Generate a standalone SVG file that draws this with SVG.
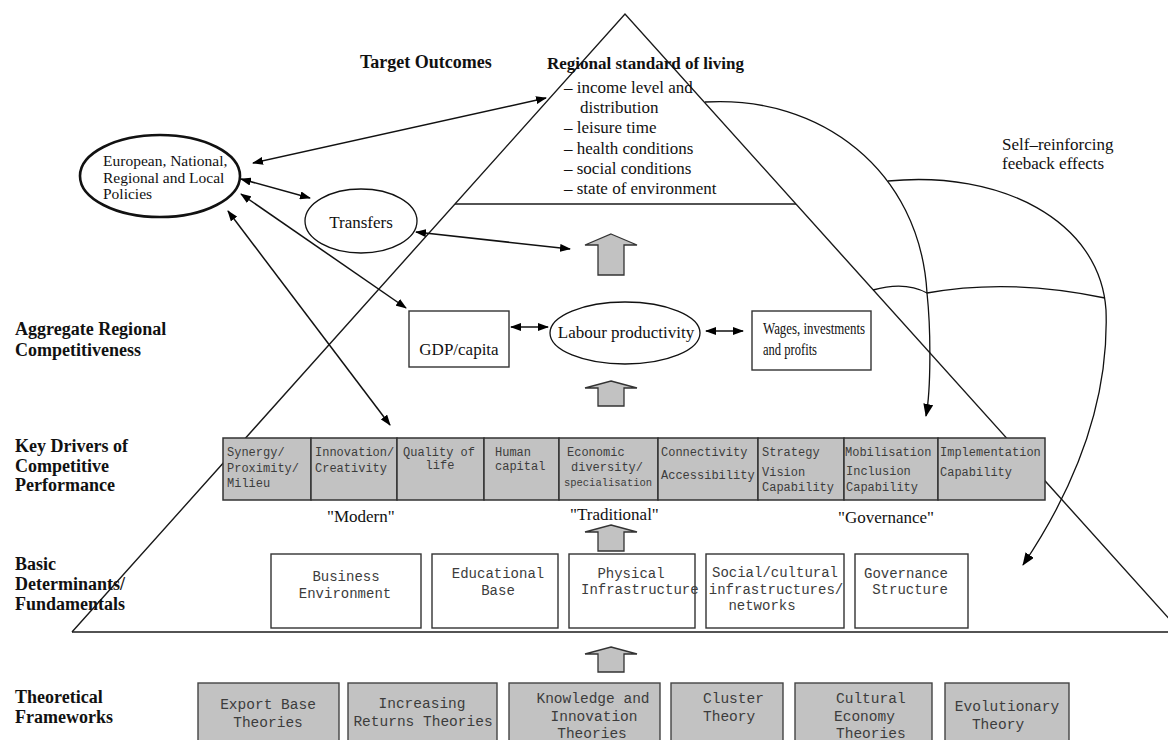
<svg xmlns="http://www.w3.org/2000/svg" width="1168" height="740" viewBox="0 0 1168 740">
<defs>
<marker id="ah" markerWidth="11" markerHeight="8" refX="10" refY="4" orient="auto-start-reverse" markerUnits="userSpaceOnUse"><path d="M0,0 L11,4 L0,8 z" fill="#000"/></marker>
<marker id="ahb" markerWidth="13" markerHeight="10" refX="12" refY="5" orient="auto" markerUnits="userSpaceOnUse"><path d="M0,0 L13,5 L0,10 z" fill="#000"/></marker>
</defs>
<style>
.serif{font-family:"Liberation Serif","Times New Roman",serif;fill:#111}
.lbl{font-family:"Liberation Serif","Times New Roman",serif;font-weight:bold;font-size:18px;fill:#111}
.mono{font-family:"Liberation Mono","Courier New",monospace;fill:#3c3c3c}
.m12{font-size:12px}
.m14{font-size:14px}
.drv{fill:#c2c2c2;stroke:#333;stroke-width:1.5}
.gbox{fill:#c2c2c2;stroke:#444;stroke-width:1.4}
.wbox{fill:#fff;stroke:#333;stroke-width:1.4}
.tri{fill:none;stroke:#1a1a1a;stroke-width:1.4}
.conn{fill:none;stroke:#111;stroke-width:1.5}
.curve{fill:none;stroke:#111;stroke-width:1.3}
.blk{fill:#c2c2c2;stroke:#333;stroke-width:1.3}
</style>
<rect width="1168" height="740" fill="#fff"/>

<!-- pyramid -->
<g id="pyramid">
<polyline class="tri" points="72,632 625,14 1181,632"/>
<line class="tri" x1="72" y1="632" x2="1168" y2="632"/>
<line class="tri" x1="455" y1="204" x2="796" y2="204"/>
</g>

<!-- level labels -->
<g id="level-labels">
<text class="lbl" x="360" y="68" font-size="20">Target Outcomes</text>
<text class="lbl" x="15" y="335">Aggregate Regional</text>
<text class="lbl" x="15" y="356">Competitiveness</text>
<text class="lbl" x="15" y="452">Key Drivers of</text>
<text class="lbl" x="15" y="472">Competitive</text>
<text class="lbl" x="15" y="491">Performance</text>
<text class="lbl" x="15" y="570">Basic</text>
<text class="lbl" x="15" y="590">Determinants/</text>
<text class="lbl" x="15" y="610">Fundamentals</text>
<text class="lbl" x="15" y="703">Theoretical</text>
<text class="lbl" x="15" y="723">Frameworks</text>
</g>

<!-- target outcomes -->
<g id="standard-of-living">
<text class="serif" x="547" y="69" font-size="17" font-weight="bold">Regional standard of living</text>
<g class="serif" font-size="17">
<text x="564" y="93">– income level and</text>
<text x="580" y="113">distribution</text>
<text x="564" y="133">– leisure time</text>
<text x="564" y="154">– health conditions</text>
<text x="564" y="174">– social conditions</text>
<text x="564" y="194">– state of environment</text>
</g>
</g>

<g id="feedback-label">
<text class="serif" x="1002" y="150" font-size="17">Self–reinforcing</text>
<text class="serif" x="1002" y="169" font-size="17">feeback effects</text>
</g>

<!-- connectors -->
<g id="connectors">
<line class="conn" x1="253" y1="163" x2="546" y2="98" marker-start="url(#ah)" marker-end="url(#ah)"/>
<line class="conn" x1="241" y1="179" x2="310" y2="198" marker-start="url(#ah)" marker-end="url(#ah)"/>
<line class="conn" x1="241" y1="194" x2="406" y2="308" marker-start="url(#ah)" marker-end="url(#ah)"/>
<line class="conn" x1="228" y1="211" x2="390" y2="425" marker-start="url(#ah)" marker-end="url(#ah)"/>
<line class="conn" x1="416" y1="232" x2="570" y2="249" marker-start="url(#ah)" marker-end="url(#ah)"/>
<line class="conn" x1="511" y1="327" x2="548" y2="327" marker-start="url(#ah)" marker-end="url(#ah)"/>
<line class="conn" x1="706" y1="331" x2="743" y2="331" marker-start="url(#ah)" marker-end="url(#ah)"/>
<path class="curve" d="M705,102 C820,95 920,170 927,293 C931,330 931,390 926,416" marker-end="url(#ahb)"/>
<path class="curve" d="M888,181 C1000,170 1100,220 1106,310 C1110,420 1060,510 1023,565" marker-end="url(#ahb)"/>
<path class="curve" d="M873,290 Q905,281 927,293 Q1010,278 1105,298"/>
</g>

<!-- policies -->
<g id="policies">
<ellipse cx="160" cy="176" rx="80" ry="41" fill="#fff" stroke="#111" stroke-width="2.6"/>
<g class="serif" font-size="15.5">
<text x="103" y="166">European, National,</text>
<text x="103" y="183">Regional and Local</text>
<text x="103" y="199">Policies</text>
</g>
</g>

<g id="transfers">
<ellipse cx="361" cy="221" rx="56" ry="32" fill="none" stroke="#111" stroke-width="1.3"/>
<text class="serif" x="361" y="228" font-size="17" text-anchor="middle">Transfers</text>
</g>

<!-- aggregate -->
<g id="gdp">
<rect class="wbox" x="409" y="311" width="100" height="56"/>
<text class="serif" x="459" y="355" font-size="17" text-anchor="middle">GDP/capita</text>
</g>
<g id="labour">
<ellipse cx="625" cy="333" rx="75" ry="31" fill="#fff" stroke="#111" stroke-width="1.3"/>
<text class="serif" x="626" y="338" font-size="17" text-anchor="middle">Labour productivity</text>
</g>
<g id="wages">
<rect class="wbox" x="752" y="311" width="119" height="59"/>
<text class="serif" x="763" y="334" font-size="16" textLength="102" lengthAdjust="spacingAndGlyphs">Wages, investments</text>
<text class="serif" x="763" y="355" font-size="16" textLength="54" lengthAdjust="spacingAndGlyphs">and profits</text>
</g>

<!-- block arrows -->
<g id="up-arrows">
<polygon class="blk" points="611,234 637,245 624,245 624,275 598,275 598,245 585,245"/>
<polygon class="blk" points="611,381 637,388 624,388 624,406 598,406 598,388 585,388"/>
<polygon class="blk" points="611,525 637,532 624,532 624,551 598,551 598,532 585,532"/>
<polygon class="blk" points="611,647 637,654 624,654 624,672 598,672 598,654 585,654"/>
</g>

<!-- key drivers -->
<g id="drivers">
<g id="d-synergy"><rect class="drv" x="223" y="438" width="88" height="62"/>
<text class="mono m12" x="227" y="456">Synergy/</text><text class="mono m12" x="227" y="472">Proximity/</text><text class="mono m12" x="227" y="487">Milieu</text></g>
<g id="d-innovation"><rect class="drv" x="311" y="438" width="86" height="62"/>
<text class="mono m12" x="315" y="456">Innovation/</text><text class="mono m12" x="315" y="472">Creativity</text></g>
<g id="d-quality"><rect class="drv" x="397" y="438" width="87" height="62"/>
<text class="mono m12" x="403" y="456">Quality of</text><text class="mono m12" x="440" y="469" text-anchor="middle">life</text></g>
<g id="d-human"><rect class="drv" x="484" y="438" width="75" height="62"/>
<text class="mono m12" x="495" y="456">Human</text><text class="mono m12" x="495" y="470">capital</text></g>
<g id="d-economic"><rect class="drv" x="559" y="438" width="99" height="62"/>
<text class="mono m12" x="567" y="456">Economic</text><text class="mono m12" x="607" y="471" text-anchor="middle">diversity/</text><text class="mono" font-size="10.5" x="608" y="486" text-anchor="middle">specialisation</text></g>
<g id="d-connectivity"><rect class="drv" x="658" y="438" width="100" height="62"/>
<text class="mono m12" x="661" y="456">Connectivity</text><text class="mono m12" x="661" y="479">Accessibility</text></g>
<g id="d-strategy"><rect class="drv" x="758" y="438" width="86" height="62"/>
<text class="mono m12" x="762" y="456">Strategy</text><text class="mono m12" x="762" y="476">Vision</text><text class="mono m12" x="762" y="491">Capability</text></g>
<g id="d-mobilisation"><rect class="drv" x="844" y="438" width="94" height="62"/>
<text class="mono m12" x="845" y="456">Mobilisation</text><text class="mono m12" x="846" y="475">Inclusion</text><text class="mono m12" x="846" y="491">Capability</text></g>
<g id="d-implementation"><rect class="drv" x="938" y="438" width="107" height="62"/>
<text class="mono m12" x="940" y="456">Implementation</text><text class="mono m12" x="940" y="476">Capability</text></g>
</g>

<g id="driver-groups">
<text class="serif" x="327" y="522" font-size="17">"Modern"</text>
<text class="serif" x="570" y="520" font-size="17">"Traditional"</text>
<text class="serif" x="838" y="523" font-size="17">"Governance"</text>
</g>

<!-- basic determinants -->
<g id="determinants">
<g id="b-business"><rect class="wbox" x="271" y="554" width="150" height="74"/>
<text class="mono m14" x="346" y="581" text-anchor="middle">Business</text><text class="mono m14" x="345" y="598" text-anchor="middle">Environment</text></g>
<g id="b-education"><rect class="wbox" x="432" y="554" width="126" height="74"/>
<text class="mono m14" x="498" y="578" text-anchor="middle">Educational</text><text class="mono m14" x="498" y="595" text-anchor="middle">Base</text></g>
<g id="b-physical"><rect class="wbox" x="569" y="554" width="126" height="74"/>
<text class="mono m14" x="631" y="578" text-anchor="middle">Physical</text><text class="mono m14" x="581" y="594">Infrastructure</text></g>
<g id="b-social"><rect class="wbox" x="706" y="554" width="138" height="74"/>
<text class="mono m14" x="775" y="577" text-anchor="middle">Social/cultural</text><text class="mono m14" x="776" y="594" text-anchor="middle">infrastructures/</text><text class="mono m14" x="762" y="610" text-anchor="middle">networks</text></g>
<g id="b-governance"><rect class="wbox" x="855" y="554" width="113" height="74"/>
<text class="mono m14" x="906" y="578" text-anchor="middle">Governance</text><text class="mono m14" x="910" y="594" text-anchor="middle">Structure</text></g>
</g>

<!-- theoretical frameworks -->
<g id="frameworks" font-size="14.5">
<g id="t-export"><rect class="gbox" x="198" y="683" width="141" height="70"/>
<text class="mono" x="268" y="709" text-anchor="middle">Export Base</text><text class="mono" x="268" y="727" text-anchor="middle">Theories</text></g>
<g id="t-returns"><rect class="gbox" x="348" y="683" width="149" height="70"/>
<text class="mono" x="422" y="708" text-anchor="middle">Increasing</text><text class="mono" x="423" y="726" text-anchor="middle">Returns Theories</text></g>
<g id="t-knowledge"><rect class="gbox" x="509" y="683" width="151" height="70"/>
<text class="mono" x="593" y="703" text-anchor="middle">Knowledge and</text><text class="mono" x="594" y="721" text-anchor="middle">Innovation</text><text class="mono" x="592" y="738" text-anchor="middle">Theories</text></g>
<g id="t-cluster"><rect class="gbox" x="671" y="683" width="112" height="70"/>
<text class="mono" x="703" y="703">Cluster</text><text class="mono" x="703" y="721">Theory</text></g>
<g id="t-cultural"><rect class="gbox" x="795" y="683" width="137" height="70"/>
<text class="mono" x="836" y="703">Cultural</text><text class="mono" x="834" y="721">Economy</text><text class="mono" x="836" y="738">Theories</text></g>
<g id="t-evolutionary"><rect class="gbox" x="945" y="683" width="124" height="70"/>
<text class="mono" x="1007" y="711" text-anchor="middle">Evolutionary</text><text class="mono" x="998" y="729" text-anchor="middle">Theory</text></g>
</g>
</svg>
